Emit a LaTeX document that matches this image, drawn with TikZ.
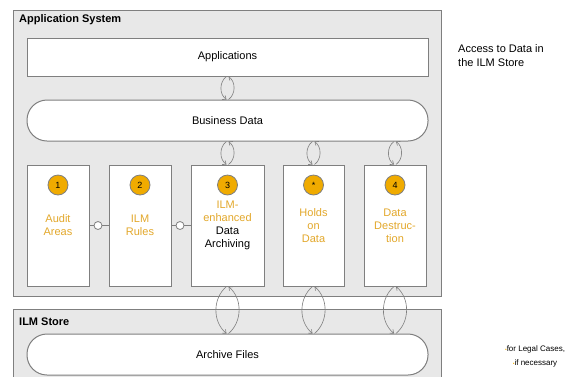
\documentclass[tikz,border=0pt]{standalone}
\usepackage{fontspec}
\setmainfont{Liberation Sans}
\usetikzlibrary{arrows.meta}
\definecolor{gristrait}{HTML}{7F7F7F}
\definecolor{grisfond}{HTML}{E8E8E8}
\definecolor{orangeilm}{HTML}{F0AB00}
\definecolor{texteilm}{HTML}{E3A82B}
\newcommand{\puce}{{\color{orangeilm}\fontsize{5}{5}\selectfont\textbullet}}

\begin{document}
\begin{tikzpicture}[x=1pt, y=-1pt]
	\tikzset{zone/.style={draw=gristrait, fill=grisfond, line width=1pt, inner sep=0, anchor=north west, minimum width=428pt},
		titre/.style={anchor=west, inner sep=0, font=\fontsize{11}{13}\selectfont\bfseries},
		bandeau/.style={draw=gristrait, fill=white, line width=1pt, inner sep=0, minimum width=401pt, font=\fontsize{11}{13}\selectfont},
		pilule/.style={bandeau, minimum height=41pt, rounded corners=20pt},
		boite/.style={draw=gristrait, fill=white, line width=1pt, inner sep=0, minimum height=121pt, align=center, text=texteilm, font=\fontsize{11}{13}\selectfont},
		pastille/.style={circle, draw=gristrait, fill=orangeilm, line width=0.8pt, minimum size=20pt, inner sep=0, font=\fontsize{9}{9}\selectfont},
		sucette/.style={circle, draw=gristrait, fill=white, line width=0.8pt, minimum size=8pt, inner sep=0},
		trait/.style={draw=gristrait, line width=0.8pt},
		fleche/.style={draw=gristrait, line width=0.6pt, -{Straight Barb[length=3pt, width=5pt]}},
		note/.style={align=left, inner sep=0, font=\fontsize{11}{14}\selectfont}};
	\useasboundingbox (0,0) rectangle (569,376);
	\clip (0,0) rectangle (569,376);

	% cadres
	\node[zone, minimum height=286pt] (appsys) at (13,10) {};
	\node[titre] (titreapp) at (19,20) {Application System};
	\node[zone, minimum height=100pt] (ilmstore) at (13,309) {};
	\node[titre] (titreilm) at (19,322) {ILM Store};

	\node[bandeau, minimum height=38pt] (apps) at (227.5,57) {Applications};
	\node[pilule] (bd) at (227.5,120.5) {Business Data};
	\node[pilule] (archive) at (227.5,354.5) {Archive Files};

	% boites
	\node[boite, minimum width=62pt] (audit) at (58,225.5) {Audit\\Areas};
	\node[boite, minimum width=62pt] (rules) at (140,225.5) {ILM\\Rules};
	\node[boite, minimum width=73pt, text=black] (arch) at (227.5,225.5) {\textcolor{texteilm}{ILM-}\\\textcolor{texteilm}{enhanced}\\Data\\Archiving};
	\node[boite, minimum width=61pt] (holds) at (313.5,225.5) {Holds\\on\\Data};
	\node[boite, minimum width=62pt] (destr) at (395,225.5) {Data\\Destruc-\\tion};

	\node[pastille] (p1) at (58,185) {1};
	\node[pastille] (p2) at (140,185) {2};
	\node[pastille] (p3) at (227.5,185) {3};
	\node[pastille] (p4) at (313.5,185) {*};
	\node[pastille] (p5) at (395,185) {4};

	\node[sucette] (lien1) at (98,225.5) {};
	\node[sucette] (lien2) at (180,225.5) {};
	\draw[trait] (audit.east) -- (lien1) -- (rules.west);
	\draw[trait] (rules.east) -- (lien2) -- (arch.west);

	% acces
	\draw[fleche] ([xshift=-1pt]apps.south) to[bend right=55] ([xshift=-1pt]bd.north);
	\draw[fleche] ([xshift=1pt]bd.north) to[bend right=55] ([xshift=1pt]apps.south);
	\foreach \b in {arch, holds, destr} {
		\draw[fleche] ([xshift=-1pt]bd.south -| \b.north) to[bend right=55] ([xshift=-1pt]\b.north);
		\draw[fleche] ([xshift=1pt]\b.north) to[bend right=55] ([xshift=1pt]bd.south -| \b.north);
		\draw[fleche] ([xshift=-1pt]\b.south) to[bend right=50] ([xshift=-1pt]archive.north -| \b.south);
		\draw[fleche] ([xshift=1pt]archive.north -| \b.south) to[bend right=50] ([xshift=1pt]\b.south);
	}

	\node[note, anchor=west] (acces) at (458,56) {Access to Data in\\the ILM Store};
	\node[note, align=center, font=\fontsize{8}{14}\selectfont] (renvoi) at (535,356) {\puce for Legal Cases,\\\puce if necessary};
\end{tikzpicture}
\end{document}
